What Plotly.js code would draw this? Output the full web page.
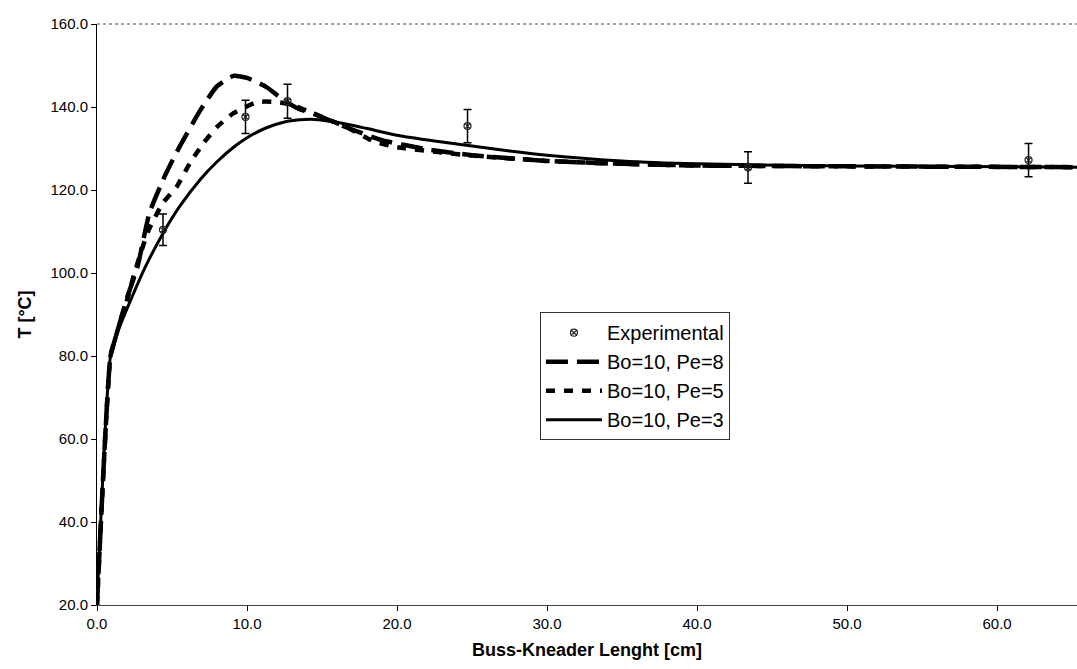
<!DOCTYPE html>
<html>
<head>
<meta charset="utf-8">
<script src="https://cdn.plot.ly/plotly-3.0.1.min.js"></script>
<style>html,body{margin:0;padding:0;background:#fff;}#chart{width:1077px;height:669px;}</style>
</head>
<body>
<div id="chart"></div>
<script>
// Experimental data
const expX = [4.4, 9.9, 12.7, 24.7, 43.4, 62.1];
const expY = [110.4, 137.6, 141.4, 135.4, 125.4, 127.2];
const expErr = [3.8, 4.0, 4.1, 4.0, 3.8, 4.0];

// Model Bo=10, Pe=8
const pe8X = [0, 0.9, 1.2, 1.6, 2.0, 2.7, 3.5, 4.6, 5.5, 6.9, 8.0, 9.1, 10.0, 11.3, 12.5, 13.5, 14.5, 16.7, 19.0, 22.0, 25.0, 30.0, 35.0, 40.0, 50.0, 65.5];
const pe8Y = [20, 80, 84, 89, 94, 101.5, 114.5, 124, 130.4, 139.3, 145, 147.5, 147, 144.8, 141.5, 139.5, 138.3, 135, 132, 129.8, 128.4, 127, 126.3, 125.9, 125.7, 125.5];

// Model Bo=10, Pe=5
const pe5X = [0, 0.9, 1.2, 1.6, 2.0, 2.5, 3.4, 4.4, 5.3, 6.2, 7.1, 8.0, 9.1, 10.7, 12.0, 13.0, 14.4, 16.7, 18.4, 20.0, 25.0, 30.0, 35.0, 40.0, 50.0, 65.5];
const pe5Y = [20, 80, 84, 89, 93.5, 100, 110, 116.9, 120.7, 126.5, 131.3, 135.2, 138.5, 141.2, 141.2, 140.5, 138.5, 135, 131.8, 130.3, 128.3, 127, 126.3, 125.9, 125.7, 125.5];

// Model Bo=10, Pe=3
const pe3X = [0, 0.9, 1.2, 1.67, 2.33, 3.2, 4.5, 5.5, 6.9, 8.0, 9.1, 10.0, 11.3, 12.5, 13.5, 14.5, 16.0, 18.0, 20.0, 22.5, 25.0, 27.5, 30.0, 35.0, 40.0, 50.0, 65.5];
const pe3Y = [20, 80, 84, 88.5, 94.2, 101.3, 110.2, 116.0, 122.6, 126.8, 130.3, 132.6, 135.0, 136.4, 136.9, 137, 136.3, 134.8, 133.2, 131.8, 130.6, 129.4, 128.4, 127, 126.3, 125.8, 125.5];

const legendNames = ["Experimental", "Bo=10, Pe=8", "Bo=10, Pe=5", "Bo=10, Pe=3"];

const traces = [
  {
    x: pe8X, y: pe8Y, mode: 'lines', name: legendNames[1], legendrank: 2, legendgroup: 'b',
    line: {color: '#000', width: 4.5, dash: '22px,9px', shape: 'spline', smoothing: 0.5}
  },
  {
    x: pe5X, y: pe5Y, mode: 'lines', name: legendNames[2], legendrank: 3, legendgroup: 'c',
    line: {color: '#000', width: 4.5, dash: '9px,9px', shape: 'spline', smoothing: 0.5}
  },
  {
    x: pe3X, y: pe3Y, mode: 'lines', name: legendNames[3], legendrank: 4, legendgroup: 'd',
    line: {color: '#000', width: 3, shape: 'spline', smoothing: 0.7}
  },
  {
    x: expX, y: expY, mode: 'markers', name: legendNames[0], legendrank: 1, legendgroup: 'a',
    marker: {symbol: 'circle-x-open', size: 7, color: '#222', line: {width: 1.2}},
    error_y: {type: 'data', array: expErr, visible: true, color: '#000', thickness: 1.5, width: 4}
  }
];

const layout = {
  width: 1077, height: 669,
  paper_bgcolor: '#fff', plot_bgcolor: '#fff',
  margin: {l: 97, r: 0, t: 24, b: 64},
  font: {family: 'Liberation Sans, Arial, sans-serif', color: '#000'},
  showlegend: true,
  legend: {
    x: 0.452, y: 0.504, xanchor: 'left', yanchor: 'top',
    bordercolor: '#333', borderwidth: 1, bgcolor: '#fff',
    font: {size: 20, family: 'Liberation Sans, Arial, sans-serif'},
    itemwidth: 56,
    tracegroupgap: 3, traceorder: 'normal'
  },
  xaxis: {
    range: [0, 65.33], dtick: 10, tick0: 0, tickformat: '.1f',
    showgrid: false, zeroline: false,
    showline: true, linecolor: '#444', linewidth: 1,
    ticks: 'outside', ticklen: 5, tickcolor: '#000',
    tickfont: {size: 15},
    title: {text: 'Buss-Kneader Lenght [cm]', font: {size: 18, family: 'Liberation Sans, Arial, sans-serif', weight: 'bold'}, standoff: 12}
  },
  yaxis: {
    range: [20, 160], dtick: 20, tick0: 20, tickformat: '.1f',
    showgrid: false, zeroline: false,
    showline: true, linecolor: '#000', linewidth: 1,
    ticks: 'outside', ticklen: 5, tickcolor: '#000',
    tickfont: {size: 15},
    title: {text: 'T [°C]', font: {size: 18, family: 'Liberation Sans, Arial, sans-serif', weight: 'bold'}, standoff: 14}
  },
  shapes: [
    {type: 'line', xref: 'paper', yref: 'paper', x0: 0, x1: 1, y0: 1, y1: 1,
     line: {color: '#444', width: 1, dash: 'dot'}}
  ]
};

Plotly.newPlot('chart', traces, layout, {staticPlot: true, displayModeBar: false});
</script>
</body>
</html>
